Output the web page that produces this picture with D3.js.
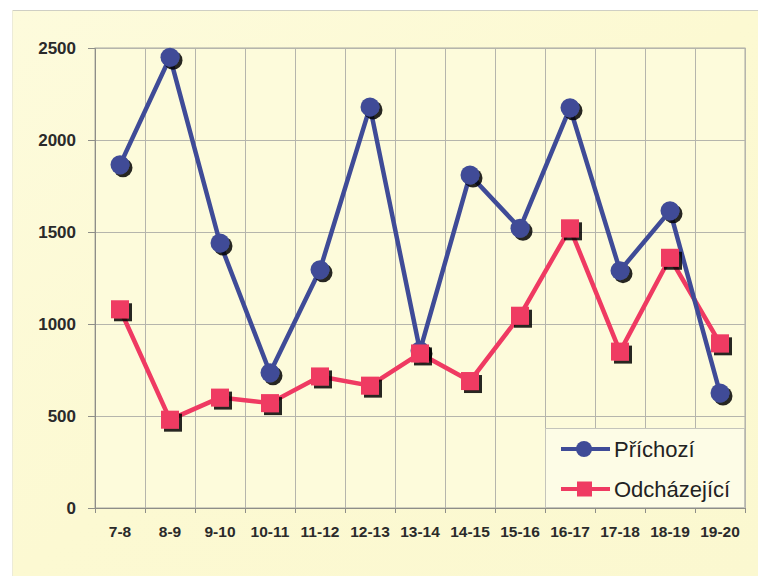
<!DOCTYPE html>
<html>
<head>
<meta charset="utf-8">
<script src="https://cdn.jsdelivr.net/npm/d3@7"></script>
<style>
  html, body { margin: 0; padding: 0; background: #ffffff; }
  svg { display: block; }
</style>
</head>
<body>
<svg id="chart" width="758" height="576"></svg>
<script>
// Hourly intervals
const categories = ["7-8", "8-9", "9-10", "10-11", "11-12", "12-13", "13-14",
                    "14-15", "15-16", "16-17", "17-18", "18-19", "19-20"];
// Incoming counts
const prichozi = [1865, 2450, 1440, 735, 1295, 2180, 855, 1810, 1520, 2175, 1290, 1615, 625];
// Outgoing counts
const odchazejici = [1080, 480, 600, 570, 715, 665, 840, 690, 1045, 1520, 850, 1360, 895];
const yTicks = [0, 500, 1000, 1500, 2000, 2500];
const seriesNames = ["Příchozí", "Odcházející"];

const svg = d3.select("#chart");
const W = 758, H = 576;
const plot = { left: 95, top: 48, right: 745, bottom: 508 };
const font = "Liberation Sans, Arial, Helvetica, sans-serif";

// Paper background
const defs = svg.append("defs");
const bg = defs.append("linearGradient").attr("id", "paper")
  .attr("x1", "0").attr("y1", "0").attr("x2", "1").attr("y2", "1");
bg.append("stop").attr("offset", "0%").attr("stop-color", "#fdfbdc");
bg.append("stop").attr("offset", "50%").attr("stop-color", "#fcf9d2");
bg.append("stop").attr("offset", "100%").attr("stop-color", "#fbf8d0");

const shadow = defs.append("filter").attr("id", "shadow")
  .attr("x", "-50%").attr("y", "-50%").attr("width", "200%").attr("height", "200%");
shadow.append("feOffset").attr("in", "SourceAlpha").attr("dx", 3).attr("dy", 3).attr("result", "off");
shadow.append("feComponentTransfer").attr("in", "off").attr("result", "dark")
  .append("feFuncA").attr("type", "linear").attr("slope", 0.85);
const merge = shadow.append("feMerge");
merge.append("feMergeNode").attr("in", "dark");
merge.append("feMergeNode").attr("in", "SourceGraphic");

svg.append("rect").attr("x", 12).attr("y", 10).attr("width", W - 12).attr("height", H - 10)
  .attr("fill", "url(#paper)");
svg.append("line").attr("x1", 12).attr("x2", W).attr("y1", 10.5).attr("y2", 10.5)
  .attr("stroke", "#cfcfc4").attr("stroke-width", 1);
svg.append("line").attr("x1", 12.5).attr("x2", 12.5).attr("y1", 10).attr("y2", H)
  .attr("stroke", "#ecebd8").attr("stroke-width", 1);

// Scales
const x = d3.scaleBand().domain(categories).range([plot.left, plot.right]).padding(0);
const y = d3.scaleLinear().domain([0, 2500]).range([plot.bottom, plot.top]);

// Plot area
svg.append("rect").attr("x", plot.left).attr("y", plot.top)
  .attr("width", plot.right - plot.left).attr("height", plot.bottom - plot.top)
  .attr("fill", "#fdfbdb").attr("stroke", "#a9a9a2").attr("stroke-width", 1);

// Horizontal gridlines
svg.append("g").selectAll("line").data(yTicks).join("line")
  .attr("x1", plot.left).attr("x2", plot.right)
  .attr("y1", d => Math.round(y(d)) + 0.5).attr("y2", d => Math.round(y(d)) + 0.5)
  .attr("stroke", "#b5b5ac").attr("stroke-width", 1);

// Vertical gridlines at category boundaries
const bounds = categories.map(c => x(c)).concat([x(categories[categories.length - 1]) + x.bandwidth()]);
svg.append("g").selectAll("line").data(bounds).join("line")
  .attr("x1", d => Math.round(d) + 0.5).attr("x2", d => Math.round(d) + 0.5)
  .attr("y1", plot.top).attr("y2", plot.bottom)
  .attr("stroke", "#b5b5ac").attr("stroke-width", 1);

// Y axis
const yAxis = svg.append("g").attr("transform", `translate(${plot.left},0)`)
  .call(d3.axisLeft(y).tickValues(yTicks).tickSize(7).tickPadding(12).tickFormat(d3.format("d")));
yAxis.select(".domain").attr("stroke", "#8e8e88");
yAxis.selectAll(".tick line").attr("stroke", "#8e8e88");
yAxis.selectAll("text").attr("font-family", font)
  .attr("font-size", 17).attr("font-weight", "bold").attr("fill", "#2a2a2a");

// X axis
const xAxis = svg.append("g").attr("transform", `translate(0,${plot.bottom})`)
  .call(d3.axisBottom(x).tickSize(0).tickPadding(18));
xAxis.select(".domain").attr("stroke", "#8e8e88");
xAxis.selectAll("text").attr("font-family", font)
  .attr("font-size", 15.5).attr("font-weight", "bold").attr("fill", "#2a2a2a");
svg.append("g").selectAll("line").data(bounds).join("line")
  .attr("x1", d => Math.round(d) + 0.5).attr("x2", d => Math.round(d) + 0.5)
  .attr("y1", plot.bottom).attr("y2", plot.bottom + 5)
  .attr("stroke", "#8e8e88");

const cx = c => x(c) + x.bandwidth() / 2;
const blue = "#3f4b97", red = "#ef3a62";

const line = d3.line().x(d => cx(d.c)).y(d => y(d.v));
const blueData = categories.map((c, i) => ({ c, v: prichozi[i] }));
const redData = categories.map((c, i) => ({ c, v: odchazejici[i] }));

// Outgoing series (behind)
svg.append("path").datum(redData).attr("d", line)
  .attr("fill", "none").attr("stroke", red).attr("stroke-width", 4.5).attr("stroke-linejoin", "round");
// Incoming series
svg.append("path").datum(blueData).attr("d", line)
  .attr("fill", "none").attr("stroke", blue).attr("stroke-width", 4.5).attr("stroke-linejoin", "round");

svg.append("g").attr("filter", "url(#shadow)").selectAll("circle").data(blueData).join("circle")
  .attr("cx", d => cx(d.c)).attr("cy", d => y(d.v)).attr("r", 9.5)
  .attr("fill", blue);
svg.append("g").attr("filter", "url(#shadow)").selectAll("rect").data(redData).join("rect")
  .attr("x", d => cx(d.c) - 9).attr("y", d => y(d.v) - 9).attr("width", 18).attr("height", 18)
  .attr("fill", red);

// Legend
const lg = svg.append("g");
lg.append("rect").attr("x", 545.5).attr("y", 428.5).attr("width", 199).attr("height", 79)
  .attr("fill", "#fdfce6").attr("stroke", "#c4c4bb").attr("stroke-width", 1);
const items = [
  { name: seriesNames[0], color: blue, shape: "circle", yy: 449 },
  { name: seriesNames[1], color: red, shape: "square", yy: 489 }
];
items.forEach(it => {
  lg.append("line").attr("x1", 561).attr("x2", 610).attr("y1", it.yy).attr("y2", it.yy)
    .attr("stroke", it.color).attr("stroke-width", 4);
  if (it.shape === "circle") {
    lg.append("circle").attr("cx", 584).attr("cy", it.yy).attr("r", 8).attr("fill", it.color);
  } else {
    lg.append("rect").attr("x", 577).attr("y", it.yy - 7.5).attr("width", 15).attr("height", 15).attr("fill", it.color);
  }
  lg.append("text").attr("x", 614).attr("y", it.yy).attr("dy", "0.35em")
    .attr("font-family", font).attr("font-size", 22)
    .attr("fill", "#222").text(it.name);
});
</script>
</body>
</html>
